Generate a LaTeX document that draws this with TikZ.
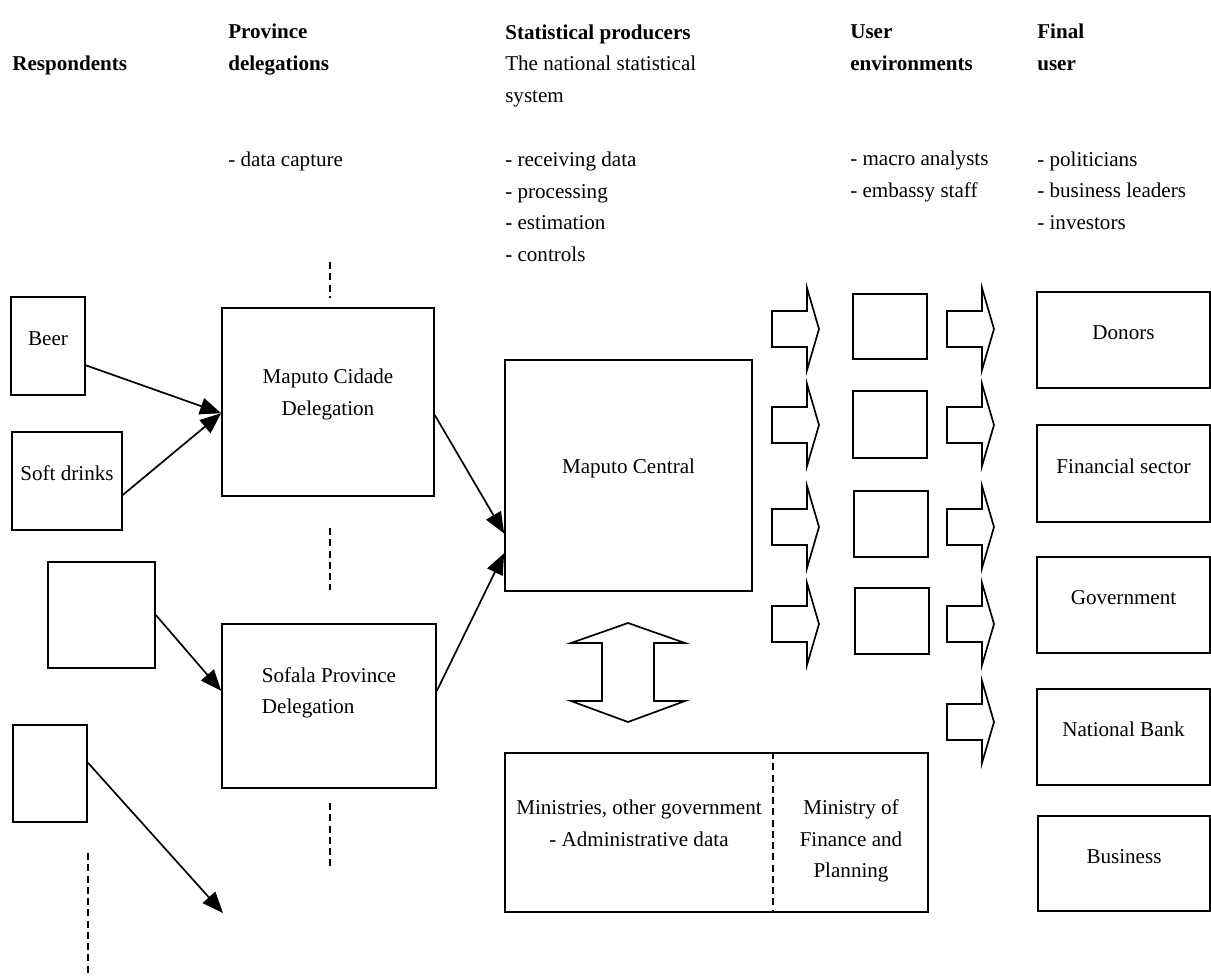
\documentclass[tikz,border=0pt]{standalone}
\usepackage{fontspec}
\setmainfont{Liberation Serif}
\usetikzlibrary{arrows.meta,fit}

\newcommand\diagfont{\fontsize{15}{22.4}\selectfont}

\tikzset{
  box/.style={draw,line width=1.2pt,inner sep=0pt,align=center},
  head/.style={font={\diagfont\bfseries},anchor=base west,align=left,inner sep=0pt},
  item/.style={anchor=base west,align=left,inner sep=0pt},
  conn/.style={line width=1.2pt,-{Triangle[length=15pt,width=12pt]}},
  sep/.style={line width=1.1pt,dash pattern=on 5pt off 3pt},
  blk/.style={draw,line width=1.2pt,line join=miter},
  rarrow/.pic={\draw[blk] (0,-18) -- (35,-18) -- (35,-41) -- (47,0) -- (35,41) -- (35,18) -- (0,18) -- cycle;},
  udarrow/.pic={\draw[blk] (0,-49) -- (57,-29) -- (26,-29) -- (26,29) -- (57,29) -- (0,50)
      -- (-57,29) -- (-26,29) -- (-26,-29) -- (-57,-29) -- cycle;}
}

\begin{document}
\begin{tikzpicture}[line cap=butt,x=0.025cm,y=-0.025cm,font=\diagfont]
\useasboundingbox (0,0) rectangle (1211,976);

% column headings (placed at the baseline of their last line)
\node[head] (hresp) at (12,70) {Respondents};
\node[head] (hprov) at (228,70) {Province\\delegations};
\node[item] (hprod) at (505,102) {\textbf{Statistical producers}\\The national statistical\\system};
\node[head] (huser) at (850,70) {User\\environments};
\node[head] (hfinal) at (1037,70) {Final\\user};

% tasks
\node[item] (tprov) at (228,166) {- data capture};
\node[item] (tprod) at (505,261) {- receiving data\\- processing\\- estimation\\- controls};
\node[item] (tuser) at (850,197) {- macro analysts\\- embassy staff};
\node[item] (tfinal) at (1037,229) {- politicians\\- business leaders\\- investors};

% respondents
\node[box,fit={(11,297) (85,395)}] (beer) {Beer};
\node[box,fit={(12,432) (122,530)}] (soft) {Soft drinks};
\node[box,fit={(48,562) (155,668)}] (resp3) {};
\node[box,fit={(13,725) (87,822)}] (resp4) {};
\coordinate (more) at (223,913);

% delegations and producers
\node[box,fit={(222,308) (434,496)}] (cidade) {Maputo Cidade\\Delegation};
\node[box,fit={(222,624) (436,788)}] (sofala) {};
\node[align=left] (sofalaname) at ([yshift=0.33cm]sofala.center) {Sofala Province\\Delegation};
\node[box,fit={(505,360) (752,591)}] (central) {Maputo Central};
\node[box,fit={(505,753) (928,912)}] (admin) {};
\node[anchor=north,align=center] (ministries) at (639,795) {Ministries, other government\\- Administrative data};
\node[anchor=north,align=center] (mofp) at (851,795) {Ministry of\\Finance and\\Planning};

% user environments
\node[box,fit={(853,294) (927,359)}] (env1) {};
\node[box,fit={(853,391) (927,458)}] (env2) {};
\node[box,fit={(854,491) (928,557)}] (env3) {};
\node[box,fit={(855,588) (929,654)}] (env4) {};

% final users
\node[box,fit={(1037,292) (1210,388)}] (donors) {Donors};
\node[box,fit={(1037,425) (1210,522)}] (finsec) {Financial sector};
\node[box,fit={(1037,557) (1210,653)}] (govt) {Government};
\node[box,fit={(1037,689) (1210,785)}] (natbank) {National Bank};
\node[box,fit={(1038,816) (1210,911)}] (business) {Business};

% data flow
\draw[conn] (beer.-27) -- (cidade.186);
\draw[conn] (soft.-14) -- (cidade.186);
\draw[conn] (resp3.east) -- (sofala.172);
\draw[conn] (resp4.16) -- (more);
\draw[conn] (cidade.-7) -- (central.205);
\draw[conn] (sofala.8) -- (central.212);

% dashed separators
\draw[sep] (330,262) -- (330,298);
\draw[sep] (330,528) -- (330,590);
\draw[sep] (330,803) -- (330,867);
\draw[sep] (88,853) -- (88,976);
\draw[sep] (admin.north -| 773,0) -- (admin.south -| 773,0);

% block arrows
\pic at (628,672) {udarrow};
\foreach \y in {329,425,527,624} \pic at (772,\y) {rarrow};
\foreach \y in {329,425,527,624,722} \pic at (947,\y) {rarrow};
\end{tikzpicture}
\end{document}
